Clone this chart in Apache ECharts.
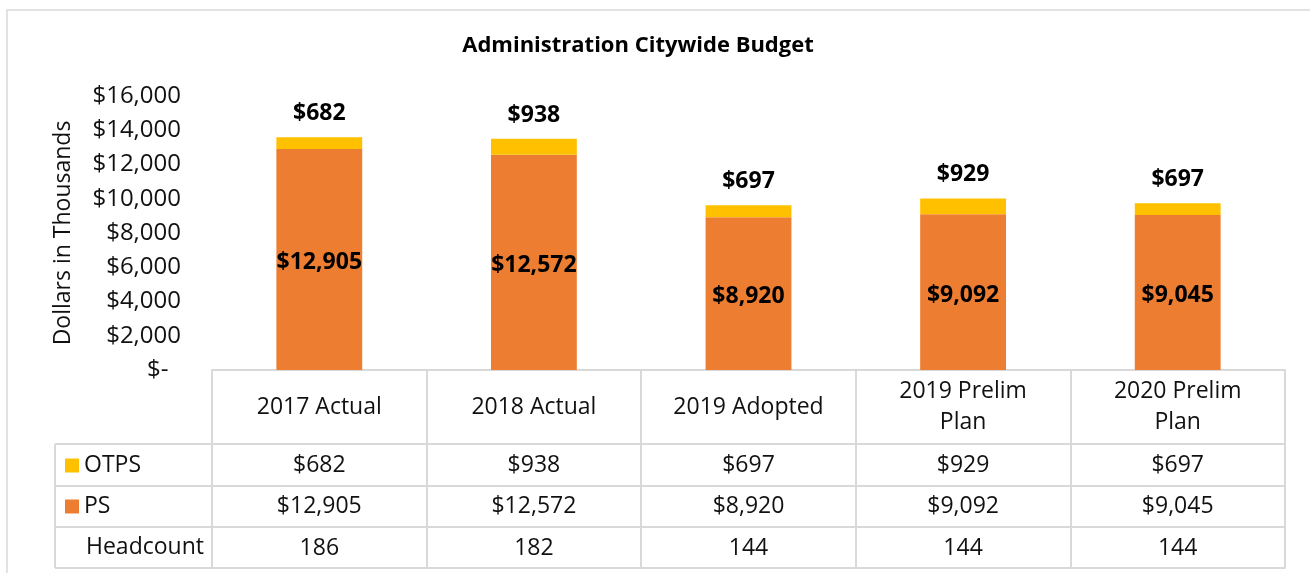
<!DOCTYPE html>
<html>
<head>
<meta charset="utf-8">
<script src="https://cdn.jsdelivr.net/npm/echarts@6/dist/echarts.min.js"></script>
<style>
  html, body { margin: 0; padding: 0; background: #fff; }
  #myChart { width: 1310px; height: 573px; }
</style>
</head>
<body>
<div id="myChart"></div>
<script>
  // data
  var categories = ['2017 Actual', '2018 Actual', '2019 Adopted', '2019 Prelim\nPlan', '2020 Prelim\nPlan'];
  var psValues = [12905, 12572, 8920, 9092, 9045];
  var otpsValues = [682, 938, 697, 929, 697];
  var headcount = [186, 182, 144, 144, 144];
  var rowLabels = ['OTPS', 'PS', 'Headcount'];

  var FONT = '"Open Sans", "Noto Sans", sans-serif';
  var LINE = '#d9d9d9';

  // layout of the plot / table
  var gridLeft = 212, gridRight = 25, gridTop = 96, gridBottom = 203;
  var zeroY = 573 - gridBottom;
  var rowOffsets = [74, 116, 157, 198];   // table row lines below the axis
  var tableLeft = 55;

  function money(v) {
    if (v === 0) return '$-\u00a0\u00a0';
    return '$' + v.toLocaleString('en-US');
  }

  var myChart = echarts.init(document.getElementById('myChart'));

  function rowAxis(offset, margin, labels) {
    return {
      type: 'category',
      data: categories,
      position: 'bottom',
      offset: offset,
      gridIndex: 0,
      axisLine: { show: true, lineStyle: { color: LINE, width: 2 } },
      axisTick: { show: false },
      axisLabel: {
        show: !!labels,
        interval: 0,
        margin: margin,
        verticalAlign: 'middle',
        color: '#111',
        fontFamily: FONT,
        fontSize: 23,
        formatter: function (v, i) { return labels ? labels[i] : ''; }
      }
    };
  }

  var option = {
    backgroundColor: '#fff',
    animation: false,
    title: {
      text: 'Administration Citywide Budget',
      left: 633,
      top: 30,
      textAlign: 'center',
      textStyle: { color: '#000', fontFamily: FONT, fontSize: 22, fontWeight: 'bold' }
    },
    legend: [
      {
        data: ['OTPS'], left: 65, top: 454, padding: 0,
        itemWidth: 14, itemHeight: 14, icon: 'rect', itemGap: 6,
        textStyle: { color: '#111', fontFamily: FONT, fontSize: 23 }, selectedMode: false
      },
      {
        data: ['PS'], left: 65, top: 495, padding: 0,
        itemWidth: 14, itemHeight: 14, icon: 'rect', itemGap: 6,
        textStyle: { color: '#111', fontFamily: FONT, fontSize: 23 }, selectedMode: false
      }
    ],
    grid: { left: gridLeft, right: gridRight, top: gridTop, bottom: gridBottom, containLabel: false },
    xAxis: [
      {
        type: 'category',
        data: categories,
        axisLine: { show: true, lineStyle: { color: LINE, width: 2 } },
        axisTick: { show: true, interval: 0, length: rowOffsets[3], lineStyle: { color: LINE, width: 2 } },
        axisLabel: {
          interval: 0,
          margin: 37,
          verticalAlign: 'middle',
          color: '#111',
          fontFamily: FONT,
          fontSize: 23,
          lineHeight: 31
        }
      },
      rowAxis(rowOffsets[0], 21, otpsValues.map(money)),
      rowAxis(rowOffsets[1], 20, psValues.map(money)),
      rowAxis(rowOffsets[2], 21, headcount.map(String)),
      rowAxis(rowOffsets[3], 0, null)
    ],
    yAxis: {
      type: 'value',
      min: 0,
      max: 16000,
      interval: 2000,
      name: 'Dollars in Thousands',
      nameLocation: 'middle',
      nameRotate: 90,
      nameGap: 137,
      nameTextStyle: { color: '#111', fontFamily: FONT, fontSize: 23 },
      axisLine: { show: false },
      axisTick: { show: false },
      splitLine: { show: false },
      axisLabel: {
        margin: 31,
        color: '#111',
        fontFamily: FONT,
        fontSize: 24,
        formatter: money
      }
    },
    series: [
      {
        name: 'PS',
        type: 'bar',
        stack: 'total',
        barWidth: '40%',
        data: psValues,
        itemStyle: { color: '#ED7D31' },
        label: {
          show: true,
          position: 'inside',
          offset: [0, 3],
          color: '#000',
          fontFamily: FONT,
          fontSize: 23,
          fontWeight: 'bold',
          formatter: function (p) { return money(p.value); }
        }
      },
      {
        name: 'OTPS',
        type: 'bar',
        stack: 'total',
        barWidth: '40%',
        data: otpsValues,
        itemStyle: { color: '#FFC000' },
        label: {
          show: true,
          position: 'top',
          distance: 12,
          color: '#000',
          fontFamily: FONT,
          fontSize: 23,
          fontWeight: 'bold',
          formatter: function (p) { return money(p.value); }
        }
      }
    ],
    graphic: []
  };

  // outer chart border + left part of the data table
  var g = [
    { type: 'rect', shape: { x: 7, y: 10, width: 1320, height: 580 }, style: { fill: 'none', stroke: LINE, lineWidth: 1.5 }, silent: true },
    { type: 'line', shape: { x1: tableLeft, y1: zeroY + rowOffsets[0], x2: tableLeft, y2: zeroY + rowOffsets[3] }, style: { stroke: LINE, lineWidth: 2 }, silent: true },
    {
      type: 'text', left: 86, top: zeroY + (rowOffsets[2] + rowOffsets[3]) / 2 - 12,
      style: { text: rowLabels[2], fill: '#111', font: '23px ' + FONT }, silent: true
    }
  ];
  rowOffsets.forEach(function (off) {
    g.push({ type: 'line', shape: { x1: tableLeft, y1: zeroY + off, x2: gridLeft, y2: zeroY + off }, style: { stroke: LINE, lineWidth: 2 }, silent: true });
  });
  option.graphic = g;

  myChart.setOption(option, true);
</script>
</body>
</html>
